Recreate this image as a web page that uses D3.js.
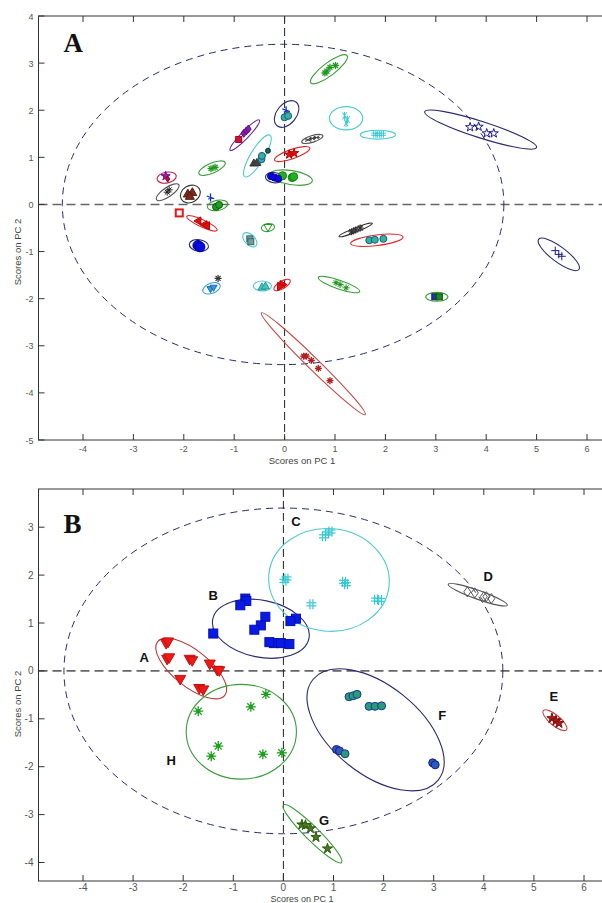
<!DOCTYPE html>
<html>
<head>
<meta charset="utf-8">
<title>PCA scores</title>
<style>
  body { margin: 0; padding: 0; background: #fff; }
  svg { display: block; font-family: Arial, "Liberation Sans", sans-serif; }
</style>
</head>
<body>
<div id="chart"></div>
<script src="https://d3js.org/d3.v7.min.js"></script>
<script>
// ---- panel A data ----
const xTicksA = [-4, -3, -2, -1, 0, 1, 2, 3, 4, 5, 6];
const yTicksA = [4, 3, 2, 1, 0, -1, -2, -3, -4, -5];
// confidence ellipse: cx, cy, rx, ry (data units)
const confA = [-0.03, 0, 4.38, 3.40];
// ellipses: colour key, centre x, centre y, major-axis end x, end y, minor/major ratio
const ellipsesA = [
  ['green', 0.88, 2.87, 1.24, 3.16, 0.28],
  ['navy', 0.04, 1.92, 0.23, 2.17, 0.65],
  ['purple', -0.79, 1.47, -0.50, 1.79, 0.18],
  ['cyan', -0.54, 1.03, -0.29, 1.47, 0.28],
  ['gray', 0.55, 1.39, 0.76, 1.46, 0.30],
  ['red', 0.15, 1.07, 0.50, 1.20, 0.25],
  ['green', 0.13, 0.57, 0.55, 0.50, 0.33],
  ['navy', -0.21, 0.57, -0.04, 0.55, 0.60],
  ['green', -1.44, 0.77, -1.18, 0.89, 0.35],
  ['crimson', -2.34, 0.57, -2.15, 0.61, 0.55],
  ['gray', -2.32, 0.26, -2.10, 0.42, 0.35],
  ['black', -1.87, 0.22, -1.69, 0.33, 0.80],
  ['green', -1.33, -0.02, -1.13, 0.02, 0.50],
  ['red', -1.64, -0.40, -1.34, -0.55, 0.22],
  ['navy', -1.70, -0.87, -1.51, -0.90, 0.60],
  ['green', -0.33, -0.49, -0.20, -0.47, 0.60],
  ['cyan', -0.69, -0.75, -0.57, -0.88, 0.60],
  ['black', 1.41, -0.54, 1.74, -0.40, 0.12],
  ['red', 1.83, -0.76, 2.35, -0.69, 0.20],
  ['navy', 5.44, -1.06, 5.84, -1.38, 0.30],
  ['navy', 3.89, 1.59, 5.00, 1.21, 0.14],
  ['cyan', 1.22, 1.83, 1.55, 1.83, 0.70],
  ['cyan', 1.85, 1.48, 2.20, 1.48, 0.25],
  ['brownred', 0.57, -3.38, 1.60, -4.46, 0.08],
  ['green', 1.08, -1.70, 1.49, -1.85, 0.20],
  ['green', 3.02, -1.96, 3.24, -1.96, 0.40],
  ['dodger', -1.45, -1.78, -1.28, -1.71, 0.55],
  ['cyan', -0.44, -1.73, -0.26, -1.73, 0.55],
  ['red', -0.05, -1.71, 0.11, -1.61, 0.40]
];
// points: marker key, x, y
const pointsA = [
  ['greenAst', 0.84, 2.83], ['greenAst', 0.90, 2.91], ['greenAst', 1.01, 2.95], ['greenAst', 0.80, 2.79],
  ['blueBar', 0.03, 2.00], ['tealCirc', 0.00, 1.85], ['tealCirc', 0.07, 1.88],
  ['crimsonSq', -0.91, 1.38], ['purpleDia', -0.81, 1.51], ['purpleDia', -0.76, 1.56], ['purpleDia', -0.72, 1.60],
  ['grayTri', -0.61, 0.88], ['grayTri', -0.55, 0.89], ['tealCirc', -0.46, 0.96], ['tealCirc', -0.45, 1.03],
  ['darkTeal', -0.33, 1.14],
  ['grayX', 0.47, 1.37], ['grayX', 0.55, 1.40], ['grayX', 0.63, 1.42],
  ['redStar', 0.09, 1.06], ['redStar', 0.19, 1.09],
  ['greenCirc', 0.15, 0.57], ['greenCirc', 0.18, 0.59], ['greenCirc', -0.04, 0.61],
  ['blueCirc', -0.27, 0.60], ['blueCirc', -0.20, 0.57], ['blueCirc', -0.13, 0.55],
  ['greenAst', -1.46, 0.76], ['greenAst', -1.38, 0.79],
  ['purpleStar', -2.36, 0.60], ['crimsonDia', -2.32, 0.54],
  ['blackAst', -2.33, 0.26], ['blackAst', -2.29, 0.31],
  ['brownTri', -1.92, 0.23], ['brownTri', -1.83, 0.26], ['brownTri', -1.88, 0.18],
  ['blueBar', -1.47, 0.15],
  ['greenDot', -1.36, -0.05], ['greenDot', -1.30, -0.01],
  ['redOpenSq', -2.09, -0.18],
  ['redTriLeft', -1.72, -0.35], ['redTriLeft', -1.60, -0.43], ['redTriLeft', -1.55, -0.45],
  ['blueBig', -1.72, -0.87], ['blueBig', -1.68, -0.90],
  ['greenTriDown', -0.33, -0.49],
  ['tealSq', -0.69, -0.73], ['tealSq', -0.67, -0.79],
  ['darkAst', 1.33, -0.58], ['darkAst', 1.41, -0.54], ['darkAst', 1.50, -0.50],
  ['tealCirc', 1.68, -0.76], ['tealCirc', 1.79, -0.75], ['tealCirc', 1.96, -0.73],
  ['navyPlus', 5.37, -0.98], ['navyPlus', 5.44, -1.06], ['navyPlus', 5.50, -1.10],
  ['navyStar', 3.68, 1.64], ['navyStar', 3.85, 1.65], ['navyStar', 4.01, 1.51], ['navyStar', 4.15, 1.51],
  ['cyanBow', 1.19, 1.88], ['cyanBow', 1.25, 1.80], ['cyanBow', 1.22, 1.73],
  ['cyanHash', 1.79, 1.49], ['cyanHash', 1.86, 1.49], ['cyanHash', 1.94, 1.49],
  ['brownAst', 0.38, -3.22], ['brownAst', 0.43, -3.22], ['brownAst', 0.53, -3.31], ['brownAst', 0.67, -3.48], ['brownAst', 0.90, -3.74],
  ['greenAstF', 1.02, -1.66], ['greenAstF', 1.10, -1.70], ['greenAstF', 1.22, -1.77],
  ['navySq', 2.98, -1.96], ['greenSq', 3.07, -1.96],
  ['darkAst', -1.32, -1.57],
  ['dodgerTri', -1.47, -1.80], ['dodgerTri', -1.41, -1.77],
  ['cyanTriUp', -0.45, -1.75], ['cyanTriUp', -0.38, -1.73],
  ['redTriRight', -0.03, -1.70], ['redTriRight', -0.08, -1.74]
];

// ---- panel B data ----
const xTicksB = [-4, -3, -2, -1, 0, 1, 2, 3, 4, 5, 6];
const yTicksB = [3, 2, 1, 0, -1, -2, -3, -4];
const confB = [0, 0, 4.38, 3.40];
const groupNamesB = ['A', 'B', 'C', 'D', 'E', 'F', 'G', 'H'];
const labelPosB = [[-2.78, 0.29], [-1.40, 1.58], [0.25, 3.13], [4.09, 1.98], [5.40, -0.53], [3.17, -0.93], [0.81, -3.12], [-2.24, -1.85]];
const ellipsesB = [
  ['redB', -1.84, 0.05, -1.17, -0.51, 0.42],
  ['navy', -0.45, 0.88, 0.51, 0.68, 0.58],
  ['cyan', 0.91, 1.90, 2.11, 1.78, 0.85],
  ['gray', 3.88, 1.59, 4.47, 1.37, 0.14],
  ['brownred', 5.42, -1.03, 5.65, -1.23, 0.35],
  ['navy', 1.84, -1.23, 3.09, -2.28, 0.55],
  ['green', 0.58, -3.40, 1.16, -4.00, 0.17],
  ['green', -0.84, -1.27, 0.26, -1.27, 0.86]
];
const pointsB = [
  ['redTriDownB', -2.34, 0.57], ['redTriDownB', -2.30, 0.60], ['redTriDownB', -2.32, 0.24], ['redTriDownB', -2.28, 0.27],
  ['redTriDownB', -1.87, 0.24], ['redTriDownB', -1.82, 0.21], ['redTriDownB', -1.47, 0.14],
  ['redTriDownB', -1.32, 0.01], ['redTriDownB', -1.28, 0.00], ['redTriDownB', -2.06, -0.18],
  ['redTriDownB', -1.68, -0.37], ['redTriDownB', -1.60, -0.40],
  ['blueSqB', -0.76, 1.51], ['blueSqB', -0.74, 1.46], ['blueSqB', -0.86, 1.37], ['blueSqB', -1.40, 0.78], ['blueSqB', -0.36, 1.13],
  ['blueSqB', -0.45, 0.95], ['blueSqB', -0.58, 0.86], ['blueSqB', 0.25, 1.09], ['blueSqB', 0.14, 1.04],
  ['blueSqB', -0.19, 0.58], ['blueSqB', -0.05, 0.58], ['blueSqB', 0.12, 0.56], ['blueSqB', -0.28, 0.60],
  ['cyanHashB', 0.87, 2.87], ['cyanHashB', 0.94, 2.91], ['cyanHashB', 0.81, 2.81], ['cyanHashB', 0.06, 1.93],
  ['cyanHashB', 0.02, 1.88], ['cyanHashB', 1.21, 1.86], ['cyanHashB', 1.25, 1.81], ['cyanHashB', 0.56, 1.39],
  ['cyanHashB', 1.85, 1.49], ['cyanHashB', 1.93, 1.48],
  ['grayDiaB', 3.67, 1.65], ['grayDiaB', 3.82, 1.63], ['grayDiaB', 4.00, 1.55], ['grayDiaB', 4.05, 1.55], ['grayDiaB', 4.15, 1.51],
  ['darkRedStarB', 5.36, -0.99], ['darkRedStarB', 5.44, -1.04], ['darkRedStarB', 5.50, -1.09],
  ['tealCircB', 1.31, -0.54], ['tealCircB', 1.39, -0.52], ['tealCircB', 1.47, -0.49],
  ['tealCircB', 1.71, -0.74], ['tealCircB', 1.83, -0.74], ['tealCircB', 1.96, -0.73],
  ['blueCircB', 1.06, -1.64], ['blueCircB', 1.12, -1.67], ['tealCircB', 1.23, -1.73],
  ['blueCircB', 2.98, -1.92], ['blueCircB', 3.03, -1.96],
  ['oliveStarB', 0.37, -3.21], ['oliveStarB', 0.44, -3.22], ['oliveStarB', 0.54, -3.29], ['oliveStarB', 0.65, -3.47], ['oliveStarB', 0.88, -3.71],
  ['greenAstB', -0.35, -0.49], ['greenAstB', -0.65, -0.75], ['greenAstB', -1.70, -0.84], ['greenAstB', -1.30, -1.57],
  ['greenAstB', -1.44, -1.78], ['greenAstB', -0.41, -1.74], ['greenAstB', -0.03, -1.71]
];

// ---- styles ----
const ellipseColors = {
  green: '#3a9e3a', navy: '#2a2a72', purple: '#6a2a9a', cyan: '#4ccad2', gray: '#555',
  red: '#e02a2a', crimson: '#c0204a', black: '#333', brownred: '#c44848', dodger: '#3aa0e0',
  redB: '#b83a3a'
};
const markerStyles = {
  greenAst: { shape: 'asterisk', stroke: '#1f9a1f', size: 7, width: 1.3 },
  greenAstF: { shape: 'asterisk', stroke: '#1f9a1f', fill: '#1f9a1f', size: 7 },
  blueBar: { shape: 'bar', stroke: '#1030d0', size: 8, width: 1.3 },
  tealCirc: { shape: 'circle', fill: '#34b0a8', stroke: '#1a5a70', size: 7 },
  darkTeal: { shape: 'circle', fill: '#1a6060', stroke: '#103030', size: 5 },
  crimsonSq: { shape: 'square', fill: '#d0103a', stroke: '#a00020', size: 6 },
  purpleDia: { shape: 'diamond', fill: '#8a1ab0', stroke: '#5a0a80', size: 8 },
  grayTri: { shape: 'triUp', fill: '#444', stroke: '#333', size: 8 },
  grayX: { shape: 'xstar', stroke: '#444', size: 7 },
  redStar: { shape: 'star', fill: '#e01010', stroke: '#c00000', size: 8 },
  greenCirc: { shape: 'circle', fill: '#20b020', stroke: '#108010', size: 8 },
  blueCirc: { shape: 'circle', fill: '#0a0ae0', stroke: '#0000a0', size: 7 },
  purpleStar: { shape: 'star', fill: '#9a20b0', stroke: '#6a0a80', size: 8 },
  crimsonDia: { shape: 'diamond', fill: '#c01040', stroke: '#900020', size: 6 },
  blackAst: { shape: 'asterisk', stroke: '#222', size: 7 },
  brownTri: { shape: 'triUp', fill: '#7a2a1a', stroke: '#5a1a10', size: 9 },
  greenDot: { shape: 'circle', fill: '#20a020', stroke: '#0a5a0a', size: 7 },
  redOpenSq: { shape: 'square', fill: 'none', stroke: '#e01818', size: 7, width: 2 },
  redTriLeft: { shape: 'triLeft', fill: '#e01010', stroke: '#c00000', size: 8 },
  blueBig: { shape: 'circle', fill: '#0a0ae0', stroke: '#0000a0', size: 10 },
  greenTriDown: { shape: 'triDown', fill: 'none', stroke: '#1f9a1f', size: 8 },
  tealSq: { shape: 'square', fill: '#7a9a9a', stroke: '#2a6a6a', size: 6 },
  darkAst: { shape: 'asterisk', stroke: '#333', size: 7, width: 1.2 },
  navyPlus: { shape: 'plus', stroke: '#1a1a90', size: 8 },
  navyStar: { shape: 'star', fill: 'none', stroke: '#1a1a90', size: 8 },
  cyanBow: { shape: 'bowtie', stroke: '#38c8d0', size: 8 },
  cyanHash: { shape: 'hash', stroke: '#38c8d0', size: 7 },
  brownAst: { shape: 'asterisk', stroke: '#b02020', size: 7, width: 1.4 },
  navySq: { shape: 'square', fill: '#1a3aa0', stroke: '#102060', size: 6 },
  greenSq: { shape: 'square', fill: '#1a8a1a', stroke: '#105010', size: 6 },
  dodgerTri: { shape: 'triDown', fill: '#3a9ae0', stroke: '#1a6ab0', size: 7 },
  cyanTriUp: { shape: 'triUp', fill: '#40c8c0', stroke: '#2a9a9a', size: 8 },
  redTriRight: { shape: 'triRight', fill: '#e01010', stroke: '#c00000', size: 8 },
  redTriDownB: { shape: 'triDown', fill: '#f01818', stroke: '#c01010', size: 11 },
  blueSqB: { shape: 'square', fill: '#0a1ae6', stroke: '#0010b0', size: 9 },
  cyanHashB: { shape: 'hash', stroke: '#38c8d0', size: 10, width: 1.2 },
  grayDiaB: { shape: 'diamond', fill: 'none', stroke: '#555', size: 10 },
  darkRedStarB: { shape: 'star', fill: '#b01818', stroke: '#801010', size: 9 },
  tealCircB: { shape: 'circle', fill: '#2a9a7a', stroke: '#1a3a90', size: 8 },
  blueCircB: { shape: 'circle', fill: '#2a5ac0', stroke: '#1a1a80', size: 8 },
  oliveStarB: { shape: 'star', fill: '#4a7a1a', stroke: '#2a5a10', size: 9 },
  greenAstB: { shape: 'asterisk', stroke: '#1fa01f', fill: '#1fa01f', size: 10, width: 1.3 }
};

const W = 602, H = 903;
const svg = d3.select('#chart').append('svg').attr('width', W).attr('height', H);

function drawMarker(g, s, px, py) {
  const r = s.size / 2;
  const m = g.append('g').attr('transform', `translate(${px},${py})`);
  const fill = s.fill || 'none';
  const sw = s.width || 1;
  const poly = pts => 'M' + pts.map(p => p.join(',')).join('L') + 'Z';
  const lines = angles => angles.forEach(a => {
    const c = Math.cos(a * Math.PI / 180) * r, sn = Math.sin(a * Math.PI / 180) * r;
    m.append('line').attr('x1', -c).attr('y1', -sn).attr('x2', c).attr('y2', sn)
      .attr('stroke', s.stroke).attr('stroke-width', sw);
  });
  switch (s.shape) {
    case 'circle':
      m.append('circle').attr('r', r).attr('fill', fill).attr('stroke', s.stroke).attr('stroke-width', sw);
      break;
    case 'square':
      m.append('rect').attr('x', -r).attr('y', -r).attr('width', 2 * r).attr('height', 2 * r)
        .attr('fill', fill).attr('stroke', s.stroke).attr('stroke-width', sw);
      break;
    case 'triUp':
      m.append('path').attr('d', poly([[0, -r], [r, r * 0.75], [-r, r * 0.75]])).attr('fill', fill).attr('stroke', s.stroke).attr('stroke-width', sw);
      break;
    case 'triDown':
      m.append('path').attr('d', poly([[0, r], [r, -r * 0.75], [-r, -r * 0.75]])).attr('fill', fill).attr('stroke', s.stroke).attr('stroke-width', sw);
      break;
    case 'triLeft':
      m.append('path').attr('d', poly([[-r, 0], [r * 0.75, -r], [r * 0.75, r]])).attr('fill', fill).attr('stroke', s.stroke).attr('stroke-width', sw);
      break;
    case 'triRight':
      m.append('path').attr('d', poly([[r, 0], [-r * 0.75, -r], [-r * 0.75, r]])).attr('fill', fill).attr('stroke', s.stroke).attr('stroke-width', sw);
      break;
    case 'diamond':
      m.append('path').attr('d', poly([[0, -r], [r * 0.7, 0], [0, r], [-r * 0.7, 0]])).attr('fill', fill).attr('stroke', s.stroke).attr('stroke-width', sw);
      break;
    case 'star':
      m.append('path').attr('d', d3.symbol(d3.symbolStar, r * r * 1.6)()).attr('fill', fill).attr('stroke', s.stroke).attr('stroke-width', sw);
      break;
    case 'asterisk':
      if (s.fill) m.append('circle').attr('r', r * 0.45).attr('fill', s.fill);
      lines([0, 45, 90, 135]);
      break;
    case 'xstar':
      lines([0, 30, 150]);
      break;
    case 'plus':
      lines([0, 90]);
      break;
    case 'bowtie':
      lines([60, 120, 90]);
      break;
    case 'bar':
      lines([90, 20]);
      m.append('line').attr('x1', -r * 0.6).attr('x2', r * 0.6).attr('y1', r * 0.4).attr('y2', r * 0.2).attr('stroke', s.stroke);
      break;
    case 'hash':
      [-0.3, 0.3].forEach(o => {
        m.append('line').attr('x1', o * r).attr('x2', o * r).attr('y1', -r).attr('y2', r).attr('stroke', s.stroke).attr('stroke-width', sw);
        m.append('line').attr('y1', o * r).attr('y2', o * r).attr('x1', -r).attr('x2', r).attr('stroke', s.stroke).attr('stroke-width', sw);
      });
      break;
  }
}

function panel(cfg) {
  const { x, y, frame, xTicks, yTicks, conf, ellipses, points, title, tickSize, tickGap, xTitleY, yTitleY, titleSize } = cfg;
  const g = svg.append('g');
  const clipId = 'clip' + title;
  g.append('clipPath').attr('id', clipId).append('rect')
    .attr('x', frame.left).attr('y', frame.top).attr('width', frame.right - frame.left).attr('height', frame.bottom - frame.top);
  const plot = g.append('g').attr('clip-path', `url(#${clipId})`);

  // zero lines
  plot.append('line').attr('x1', frame.left).attr('x2', frame.right).attr('y1', y(0)).attr('y2', y(0))
    .attr('stroke', '#666').attr('stroke-width', 1.6).attr('stroke-dasharray', '9,5');
  plot.append('line').attr('x1', x(0)).attr('x2', x(0)).attr('y1', frame.top).attr('y2', frame.bottom)
    .attr('stroke', '#222').attr('stroke-width', 1).attr('stroke-dasharray', '8,4');

  // confidence ellipse
  plot.append('ellipse').attr('cx', x(conf[0])).attr('cy', y(conf[1]))
    .attr('rx', x(conf[0] + conf[2]) - x(conf[0])).attr('ry', y(conf[1]) - y(conf[1] + conf[3]))
    .attr('fill', 'none').attr('stroke', '#2a2a6a').attr('stroke-width', 1).attr('stroke-dasharray', '7,5');

  // group ellipses
  ellipses.forEach(([key, cx, cy, ex, ey, ratio]) => {
    const px = x(cx), py = y(cy), qx = x(ex), qy = y(ey);
    const a = Math.hypot(qx - px, qy - py);
    const ang = Math.atan2(qy - py, qx - px) * 180 / Math.PI;
    plot.append('ellipse').attr('cx', 0).attr('cy', 0).attr('rx', a).attr('ry', a * ratio)
      .attr('transform', `translate(${px},${py}) rotate(${ang})`)
      .attr('fill', 'none').attr('stroke', ellipseColors[key]).attr('stroke-width', 1.1);
  });

  // points
  points.forEach(([key, vx, vy]) => drawMarker(plot, markerStyles[key], x(vx), y(vy)));

  // frame
  g.append('rect').attr('x', frame.left).attr('y', frame.top)
    .attr('width', frame.right - frame.left).attr('height', frame.bottom - frame.top)
    .attr('fill', 'none').attr('stroke', '#333').attr('stroke-width', 1);

  // ticks
  xTicks.forEach(t => {
    g.append('line').attr('x1', x(t)).attr('x2', x(t)).attr('y1', frame.bottom).attr('y2', frame.bottom - 6).attr('stroke', '#333');
    g.append('line').attr('x1', x(t)).attr('x2', x(t)).attr('y1', frame.top).attr('y2', frame.top + 6).attr('stroke', '#333');
    g.append('text').attr('x', x(t)).attr('y', frame.bottom + tickGap).attr('text-anchor', 'middle')
      .attr('font-size', tickSize).attr('fill', '#555').text(t);
  });
  yTicks.forEach(t => {
    g.append('line').attr('x1', frame.left).attr('x2', frame.left + 6).attr('y1', y(t)).attr('y2', y(t)).attr('stroke', '#333');
    g.append('text').attr('x', frame.left - 5).attr('y', y(t) + 3.5).attr('text-anchor', 'end')
      .attr('font-size', tickSize).attr('fill', '#555').text(t);
  });

  // axis titles
  g.append('text').attr('x', 302).attr('y', xTitleY).attr('text-anchor', 'middle')
    .attr('font-size', titleSize).attr('fill', '#444').text('Scores on PC 1');
  g.append('text').attr('transform', `translate(21,${yTitleY}) rotate(-90)`).attr('text-anchor', 'middle')
    .attr('font-size', 9.5).attr('fill', '#444').text('Scores on PC 2');

  // panel letter
  g.append('text').attr('x', frame.left + 25).attr('y', cfg.letterY)
    .attr('font-family', '"Liberation Serif", "Times New Roman", serif').attr('font-weight', 'bold')
    .attr('font-size', 27).attr('fill', '#111').text(title);
  return g;
}

// panel A
const xA = d3.scaleLinear().domain([-4, 6]).range([83, 587]);
const yA = d3.scaleLinear().domain([-5, 4]).range([440, 16]);
panel({
  x: xA, y: yA, frame: { left: 38.5, right: 610, top: 16, bottom: 440 },
  xTicks: xTicksA, yTicks: yTicksA, conf: confA, ellipses: ellipsesA, points: pointsA,
  title: 'A', tickSize: 9, tickGap: 12, xTitleY: 464, yTitleY: 252, letterY: 52, titleSize: 9.5
});

// panel B
const xB = d3.scaleLinear().domain([-4, 6]).range([83, 584]);
const yB = d3.scaleLinear().domain([-4, 3]).range([862.5, 527.2]);
const gB = panel({
  x: xB, y: yB, frame: { left: 38.5, right: 610, top: 489, bottom: 881 },
  xTicks: xTicksB, yTicks: yTicksB, conf: confB, ellipses: ellipsesB, points: pointsB,
  title: 'B', tickSize: 10, tickGap: 10, xTitleY: 901.5, yTitleY: 704, letterY: 533, titleSize: 9
});
groupNamesB.forEach((n, i) => {
  gB.append('text').attr('x', xB(labelPosB[i][0])).attr('y', yB(labelPosB[i][1]) + 5)
    .attr('text-anchor', 'middle').attr('font-size', 13).attr('font-weight', 'bold').attr('fill', '#111').text(n);
});
</script>
</body>
</html>
